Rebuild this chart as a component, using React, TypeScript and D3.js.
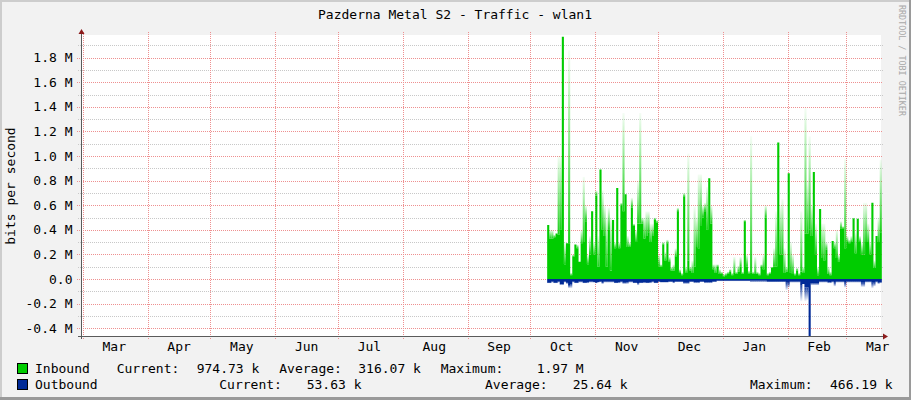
import * as d3 from 'd3';

// traffic values in M bits per second, one column per day from 9 Oct 2022
// solid part of the column and the faded spike above it
const inBase = [
  0.44, 0.33, 0.33, 0.34, 0.37, 0.36, 0.40, 1.97, 0.12, 0.29,
  0.29, 0.03, 0.18, 0.28, 0.25, 0.14, 0.29, 0.30, 0.47, 0.12,
  0.20, 0.55, 0.20, 0.68, 0.10, 0.89, 0.40, 0.35, 0.10, 0.40,
  0.07, 0.48, 0.25, 0.74, 0.25, 0.60, 0.55, 0.69, 0.26, 0.26,
  0.58, 0.43, 0.30, 0.45, 0.45, 0.45, 0.33, 0.35, 0.38, 0.30,
  0.35, 0.48, 0.46, 0.10, 0.10, 0.28, 0.15, 0.29, 0.14, 0.07,
  0.07, 0.18, 0.55, 0.05, 0.03, 0.67, 0.05, 0.15, 0.07, 0.05,
  0.10, 0.26, 0.25, 0.43, 0.50, 0.55, 0.40, 0.82, 0.45, 0.08,
  0.05, 0.10, 0.04, 0.04, 0.02, 0.03, 0.04, 0.06, 0.03, 0.05,
  0.04, 0.06, 0.10, 0.04, 0.47, 0.10, 0.04, 0.05, 0.04, 0.04,
  0.04, 0.03, 0.10, 0.08, 0.50, 0.03, 0.04, 0.09, 0.10, 0.10,
  1.11, 0.20, 0.20, 0.05, 0.06, 0.86, 0.05, 0.04, 0.03, 0.07,
  0.03, 0.06, 0.05, 0.37, 0.37, 0.40, 0.35, 0.87, 0.20, 0.03,
  0.57, 0.17, 0.15, 0.24, 0.04, 0.03, 0.31, 0.25, 0.17, 0.14,
  0.41, 0.41, 0.25, 0.30, 0.29, 0.30, 0.49, 0.21, 0.49, 0.30,
  0.20, 0.20, 0.30, 0.30, 0.20, 0.62, 0.09, 0.35, 0.30, 0.38,
];
const inPeak = [
  0.44, 0.40, 0.40, 0.36, 0.37, 1.00, 1.00, 1.97, 0.30, 0.29,
  1.86, 0.05, 0.20, 0.28, 0.28, 0.14, 0.40, 0.83, 0.60, 0.20,
  0.35, 0.55, 0.30, 0.72, 0.35, 0.89, 0.72, 0.60, 0.50, 0.58,
  0.50, 0.48, 0.30, 0.74, 0.30, 0.62, 1.35, 0.69, 0.35, 0.30,
  0.66, 0.45, 0.40, 0.80, 1.35, 0.50, 0.50, 0.55, 0.55, 0.45,
  0.45, 0.50, 0.48, 0.20, 0.12, 0.30, 0.22, 0.32, 0.18, 0.10,
  0.12, 0.25, 0.58, 0.08, 0.05, 0.70, 0.10, 1.02, 0.10, 0.15,
  0.59, 0.50, 0.85, 0.85, 0.60, 0.62, 0.75, 0.82, 0.60, 0.12,
  0.12, 0.12, 0.08, 0.06, 0.04, 0.05, 0.06, 0.08, 0.05, 0.18,
  0.06, 0.11, 0.18, 0.06, 0.48, 0.20, 0.07, 1.16, 0.06, 0.18,
  0.06, 0.05, 0.12, 0.20, 0.60, 0.05, 0.06, 0.10, 0.25, 0.55,
  1.11, 0.60, 0.65, 0.25, 0.10, 0.86, 0.30, 0.20, 0.05, 0.09,
  0.05, 0.55, 0.10, 1.39, 0.80, 1.16, 0.60, 0.87, 0.45, 0.10,
  0.57, 0.45, 0.45, 0.30, 0.10, 0.06, 0.31, 0.30, 0.40, 0.20,
  0.47, 0.43, 0.98, 0.35, 0.32, 0.35, 0.50, 0.38, 0.49, 0.35,
  0.30, 0.62, 0.62, 0.45, 0.30, 0.62, 0.15, 0.35, 0.50, 0.97,
];
const outBase = [
  -0.030, -0.030, -0.020, -0.030, -0.030, -0.020, -0.040, -0.040, -0.020, -0.030,
  -0.050, -0.040, -0.020, -0.030, -0.030, -0.020, -0.020, -0.030, -0.030, -0.025,
  -0.020, -0.020, -0.025, -0.030, -0.025, -0.020, -0.030, -0.020, -0.020, -0.020,
  -0.020, -0.020, -0.030, -0.030, -0.025, -0.020, -0.030, -0.030, -0.025, -0.020,
  -0.020, -0.030, -0.030, -0.035, -0.030, -0.030, -0.025, -0.030, -0.030, -0.025,
  -0.020, -0.030, -0.030, -0.020, -0.025, -0.025, -0.025, -0.025, -0.020, -0.020,
  -0.025, -0.020, -0.020, -0.020, -0.020, -0.030, -0.030, -0.030, -0.020, -0.020,
  -0.025, -0.025, -0.025, -0.020, -0.020, -0.025, -0.025, -0.025, -0.025, -0.020,
  -0.020, -0.015, -0.015, -0.015, -0.015, -0.015, -0.015, -0.015, -0.015, -0.015,
  -0.015, -0.015, -0.015, -0.015, -0.015, -0.015, -0.015, -0.015, -0.015, -0.015,
  -0.015, -0.015, -0.015, -0.015, -0.015, -0.020, -0.020, -0.020, -0.020, -0.020,
  -0.020, -0.020, -0.020, -0.020, -0.030, -0.030, -0.020, -0.020, -0.020, -0.020,
  -0.020, -0.050, -0.040, -0.070, -0.070, -0.466, -0.035, -0.035, -0.035, -0.035,
  -0.020, -0.020, -0.020, -0.020, -0.025, -0.025, -0.020, -0.030, -0.020, -0.020,
  -0.020, -0.020, -0.030, -0.020, -0.020, -0.020, -0.020, -0.020, -0.020, -0.020,
  -0.030, -0.030, -0.020, -0.020, -0.020, -0.030, -0.030, -0.020, -0.030, -0.025,
];
const outPeak = [
  -0.035, -0.035, -0.030, -0.035, -0.035, -0.030, -0.050, -0.050, -0.030, -0.040,
  -0.075, -0.075, -0.030, -0.035, -0.035, -0.030, -0.030, -0.035, -0.035, -0.035,
  -0.030, -0.030, -0.030, -0.035, -0.030, -0.025, -0.040, -0.030, -0.030, -0.030,
  -0.030, -0.030, -0.035, -0.035, -0.035, -0.030, -0.040, -0.040, -0.040, -0.030,
  -0.030, -0.035, -0.035, -0.050, -0.035, -0.035, -0.035, -0.035, -0.035, -0.035,
  -0.030, -0.035, -0.035, -0.025, -0.030, -0.030, -0.030, -0.030, -0.025, -0.025,
  -0.035, -0.025, -0.025, -0.025, -0.025, -0.040, -0.040, -0.040, -0.025, -0.025,
  -0.035, -0.035, -0.035, -0.025, -0.025, -0.035, -0.035, -0.035, -0.035, -0.025,
  -0.025, -0.020, -0.020, -0.020, -0.020, -0.020, -0.020, -0.020, -0.020, -0.020,
  -0.020, -0.020, -0.020, -0.020, -0.020, -0.020, -0.020, -0.025, -0.025, -0.025,
  -0.025, -0.025, -0.025, -0.025, -0.025, -0.025, -0.025, -0.025, -0.025, -0.025,
  -0.025, -0.025, -0.025, -0.025, -0.090, -0.070, -0.030, -0.030, -0.030, -0.030,
  -0.030, -0.180, -0.040, -0.180, -0.170, -0.466, -0.050, -0.050, -0.050, -0.050,
  -0.030, -0.030, -0.030, -0.030, -0.035, -0.035, -0.030, -0.060, -0.030, -0.030,
  -0.030, -0.030, -0.070, -0.030, -0.030, -0.030, -0.030, -0.030, -0.030, -0.030,
  -0.065, -0.065, -0.030, -0.030, -0.030, -0.075, -0.060, -0.030, -0.040, -0.035,
];

const yMajor = [-0.4, -0.2, 0, 0.2, 0.4, 0.6, 0.8, 1.0, 1.2, 1.4, 1.6, 1.8];
const yLabels = ['-0.4 M', '-0.2 M', '0.0', '0.2 M', '0.4 M', '0.6 M', '0.8 M', '1.0 M', '1.2 M', '1.4 M', '1.6 M', '1.8 M'];
const yMinor = [-0.3, -0.1, 0.1, 0.3, 0.5, 0.7, 0.9, 1.1, 1.3, 1.5, 1.7, 1.9];
const monthLabels = ['Mar', 'Apr', 'May', 'Jun', 'Jul', 'Aug', 'Sep', 'Oct', 'Nov', 'Dec', 'Jan', 'Feb', 'Mar'];

const legendIn = [
  ['Inbound', 35], ['Current:', 116.7], ['974.73 k', 196.7], ['Average:', 279.3],
  ['316.07 k', 358.3], ['Maximum:', 440.7], ['1.97 M', 536.7],
] as const;
const legendOut = [
  ['Outbound', 35], ['Current:', 219.3], ['53.63 k', 306.7], ['Average:', 485],
  ['25.64 k', 572.7], ['Maximum:', 750], ['466.19 k', 830],
] as const;

const W = 911;
const H = 400;
const left = 81, right = 881, top = 35, bottom = 336;
const DAY = 86400000;
const start = Date.UTC(2022, 1, 28, 2, 40);
const firstDay = Date.UTC(2022, 9, 9);
const day = (i: number) => new Date(firstDay + i * DAY);

const FONT = '"DejaVu Sans Mono", monospace';
const GREEN = '#00CC00';
const BLUE = '#002A97';

export default function App() {
  const x = d3.scaleUtc()
    .domain([new Date(start), new Date(start + 382.5 * DAY)])
    .range([left, right]);
  const y = d3.scaleLinear().domain([-0.4634, 1.984]).range([bottom, top]);

  const months = d3.utcMonth.range(new Date(start), new Date(start + 382.5 * DAY));
  // month names sit in the middle of each month
  const labelDates = d3.utcMonth
    .range(new Date(Date.UTC(2022, 2, 1)), new Date(Date.UTC(2023, 2, 2)))
    .map(d => d3.utcDay.offset(d, 15));

  const stepArea = (vals: number[]) =>
    d3.area<number>()
      .x((_, i) => x(day(i)))
      .y0(y(0))
      .y1(d => y(d))
      .curve(d3.curveStepAfter)([...vals, vals[vals.length - 1]]) || '';

  const gy = (v: number) => Math.round(y(v)) + 0.5;

  return (
    <svg width={W} height={H} style={{ position: 'absolute', left: 0, top: 0 }} fontFamily={FONT}>
      <defs>
        <linearGradient id="fadeUp" x1="0" y1="1" x2="0" y2="0">
          <stop offset="0" stopColor={GREEN} stopOpacity={0.9} />
          <stop offset="1" stopColor={GREEN} stopOpacity={0.04} />
        </linearGradient>
        <linearGradient id="fadeDown" x1="0" y1="0" x2="0" y2="1">
          <stop offset="0" stopColor={BLUE} stopOpacity={0.9} />
          <stop offset="1" stopColor={BLUE} stopOpacity={0.05} />
        </linearGradient>
      </defs>
      <rect width={W} height={H} fill="#F2F2F2" />
      <rect x={0} y={0} width={W} height={2} fill="#CDCDCD" />
      <rect x={0} y={0} width={2} height={H} fill="#CDCDCD" />
      <rect x={W - 2} y={0} width={2} height={H} fill="#9A9A9A" />
      <rect x={0} y={H - 3} width={W} height={3} fill="#9A9A9A" />

      <text x={455} y={19} textAnchor="middle" fontSize={13} fill="#000">
        Pazderna Metal S2 - Traffic - wlan1
      </text>

      <rect x={left} y={top} width={right - left} height={bottom - top} fill="#fff" />

      {yMinor.map(v => (
        <line key={'mi' + v} x1={78} x2={right + 2} y1={gy(v)} y2={gy(v)}
          stroke="#C8C8C8" strokeDasharray="1,1" />
      ))}
      {yMajor.map(v => (
        <line key={'ma' + v} x1={77} x2={right + 2} y1={gy(v)} y2={gy(v)}
          stroke="#EE9090" strokeDasharray="1,1" />
      ))}
      {months.map(m => {
        const xx = Math.round(x(m)) + 0.5;
        return (
          <line key={+m} x1={xx} x2={xx} y1={32} y2={bottom + 3}
            stroke="#EE9090" strokeDasharray="1,1" />
        );
      })}

      <path d={stepArea(inBase)} fill={GREEN} />
      {inPeak.map((p, i) => p > inBase[i] + 0.005 ? (
        <rect key={'ip' + i} x={x(day(i))} width={x(day(i + 1)) - x(day(i))}
          y={y(p)} height={y(inBase[i]) - y(p)} fill="url(#fadeUp)" />
      ) : null)}
      <path d={stepArea(outBase)} fill={BLUE} />
      {outPeak.map((p, i) => p < outBase[i] - 0.002 ? (
        <rect key={'op' + i} x={x(day(i))} width={x(day(i + 1)) - x(day(i))}
          y={y(outBase[i])} height={y(p) - y(outBase[i])} fill="url(#fadeDown)" />
      ) : null)}

      <line x1={left + 0.5} x2={left + 0.5} y1={bottom + 3} y2={31} stroke="#5A5A5A" />
      <line x1={left - 3} x2={right + 3} y1={bottom + 0.5} y2={bottom + 0.5} stroke="#5A5A5A" />
      <path d={`M${left - 2.5},${34} L${left + 0.5},${29} L${left + 3.5},${34} Z`} fill="#8B1C1C" />
      <path d={`M${right + 2},${bottom - 2.5} L${right + 7},${bottom + 0.5} L${right + 2},${bottom + 3.5} Z`} fill="#8B1C1C" />

      {yMajor.map((v, i) => (
        <text key={'yl' + v} x={72.5} y={y(v) + 4.6} textAnchor="end" fontSize={13} fill="#000">
          {yLabels[i]}
        </text>
      ))}
      {labelDates.map((d, i) => (
        <text key={'xl' + i} x={x(d)} y={351} textAnchor="middle" fontSize={13} fill="#000">
          {monthLabels[i]}
        </text>
      ))}

      <text transform="translate(14.5,186) rotate(-90)" textAnchor="middle" fontSize={13} fill="#000">
        bits per second
      </text>
      <text transform="translate(899,5) rotate(90)" fontSize={8.4} fill="#A8A8A8">
        RRDTOOL / TOBI OETIKER
      </text>

      <rect x={17.5} y={363.5} width={10} height={10} fill={GREEN} stroke="#000" />
      <rect x={17.5} y={379.5} width={10} height={10} fill={BLUE} stroke="#000" />
      {legendIn.map(([t, lx]) => (
        <text key={'li' + t} x={lx} y={373} fontSize={13} fill="#000" xmlSpace="preserve">{t}</text>
      ))}
      {legendOut.map(([t, lx]) => (
        <text key={'lo' + t} x={lx} y={389} fontSize={13} fill="#000" xmlSpace="preserve">{t}</text>
      ))}
    </svg>
  );
}
